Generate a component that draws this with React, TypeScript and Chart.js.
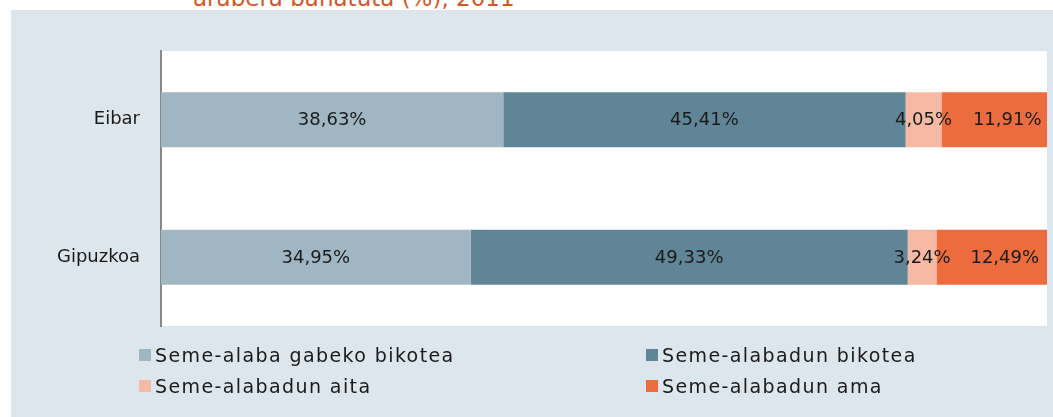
import React, { useEffect, useRef } from "react";
import { Chart, registerables } from "chart.js";

Chart.register(...registerables);

const categories = ["Eibar", "Gipuzkoa"];
const seriesNames = [
  "Seme-alaba gabeko bikotea",
  "Seme-alabadun bikotea",
  "Seme-alabadun aita",
  "Seme-alabadun ama",
];
const bikoteaGabe = [38.63, 34.95];
const bikoteaDun = [45.41, 49.33];
const aita = [4.05, 3.24];
const ama = [11.91, 12.49];
const seriesColors = ["#a0b7c3", "#5f8596", "#f6b9a3", "#ec6c3e"];
const titleText = "arabera banatuta (%), 2011";

const FONT = "'DejaVu Sans', sans-serif";

const fmt = (v: number) => v.toFixed(2).replace(".", ",") + "%";

const whiteArea = {
  id: "whiteArea",
  beforeDraw(chart: any) {
    const { ctx, chartArea } = chart;
    ctx.save();
    ctx.fillStyle = "#ffffff";
    ctx.fillRect(chartArea.left, chartArea.top, chartArea.right - chartArea.left, chartArea.bottom - chartArea.top);
    ctx.restore();
  },
};

const valueLabels = {
  id: "valueLabels",
  afterDatasetsDraw(chart: any) {
    const { ctx } = chart;
    ctx.save();
    ctx.font = `18px ${FONT}`;
    ctx.fillStyle = "#1a1a1a";
    ctx.textAlign = "center";
    ctx.textBaseline = "middle";
    chart.data.datasets.forEach((ds: any, i: number) => {
      const meta = chart.getDatasetMeta(i);
      meta.data.forEach((bar: any, j: number) => {
        const cx = (bar.x + bar.base) / 2 + (ds.labelShift || 0);
        ctx.fillText(fmt(ds.data[j]), cx, bar.y + 1);
      });
    });
    ctx.restore();
  },
};

export default function App() {
  const ref = useRef<HTMLCanvasElement | null>(null);

  useEffect(() => {
    if (!ref.current) return;
    const values = [bikoteaGabe, bikoteaDun, aita, ama];
    const chart = new Chart(ref.current, {
      type: "bar",
      data: {
        labels: categories,
        datasets: values.map((d, i) => ({
          label: seriesNames[i],
          data: d,
          backgroundColor: seriesColors[i],
          borderWidth: 0,
          categoryPercentage: 0.8,
          barPercentage: 0.5,
          labelShift: i === 3 ? 13 : 0,
        })) as any,
      },
      options: {
        indexAxis: "y",
        animation: false,
        responsive: false,
        maintainAspectRatio: false,
        layout: { padding: { top: 51, right: 6, bottom: 91, left: 0 } },
        plugins: {
          legend: { display: false },
          tooltip: { enabled: false },
          title: { display: false },
        },
        scales: {
          x: {
            stacked: true,
            display: false,
            min: 0,
            max: 100,
          },
          y: {
            stacked: true,
            grid: { display: false },
            border: { display: true, color: "#888888", width: 2 },
            ticks: {
              color: "#1a1a1a",
              font: { family: FONT, size: 18 },
              padding: 13,
            },
            afterFit(scale: any) {
              scale.width = 161;
            },
          },
        },
      },
      plugins: [whiteArea, valueLabels],
    });
    return () => chart.destroy();
  }, []);

  const legendPos = [
    { left: 139, top: 349 },
    { left: 646, top: 349 },
    { left: 139, top: 380 },
    { left: 646, top: 380 },
  ];

  return (
    <div
      style={{
        position: "absolute",
        left: 0,
        top: 0,
        width: 1053,
        height: 417,
        overflow: "hidden",
        background: "#ffffff",
        fontFamily: FONT,
      }}
    >
      <div
        style={{
          position: "absolute",
          left: 11,
          top: 10,
          width: 1042,
          height: 407,
          background: "#dee6ed",
        }}
      />
      <div
        style={{
          position: "absolute",
          left: 0,
          top: 0,
          width: 1053,
          height: 10,
          overflow: "hidden",
        }}
      >
        <div
          style={{
            position: "absolute",
            left: 193,
            top: -14,
            fontSize: 23,
            lineHeight: "24px",
            color: "#d4572a",
            whiteSpace: "nowrap",
          }}
        >
          {titleText}
        </div>
      </div>
      <canvas
        ref={ref}
        width={1053}
        height={417}
        style={{ position: "absolute", left: 0, top: 0, width: 1053, height: 417 }}
      />
      {seriesNames.map((name, i) => (
        <div
          key={name}
          style={{
            position: "absolute",
            left: legendPos[i].left,
            top: legendPos[i].top - 5,
            height: 22,
            display: "flex",
            alignItems: "center",
            whiteSpace: "nowrap",
            fontSize: 19,
            letterSpacing: "1.4px",
            color: "#1a1a1a",
          }}
        >
          <span
            style={{
              display: "inline-block",
              width: 12,
              height: 12,
              background: seriesColors[i],
              marginRight: 4,
            }}
          />
          {name}
        </div>
      ))}
    </div>
  );
}
